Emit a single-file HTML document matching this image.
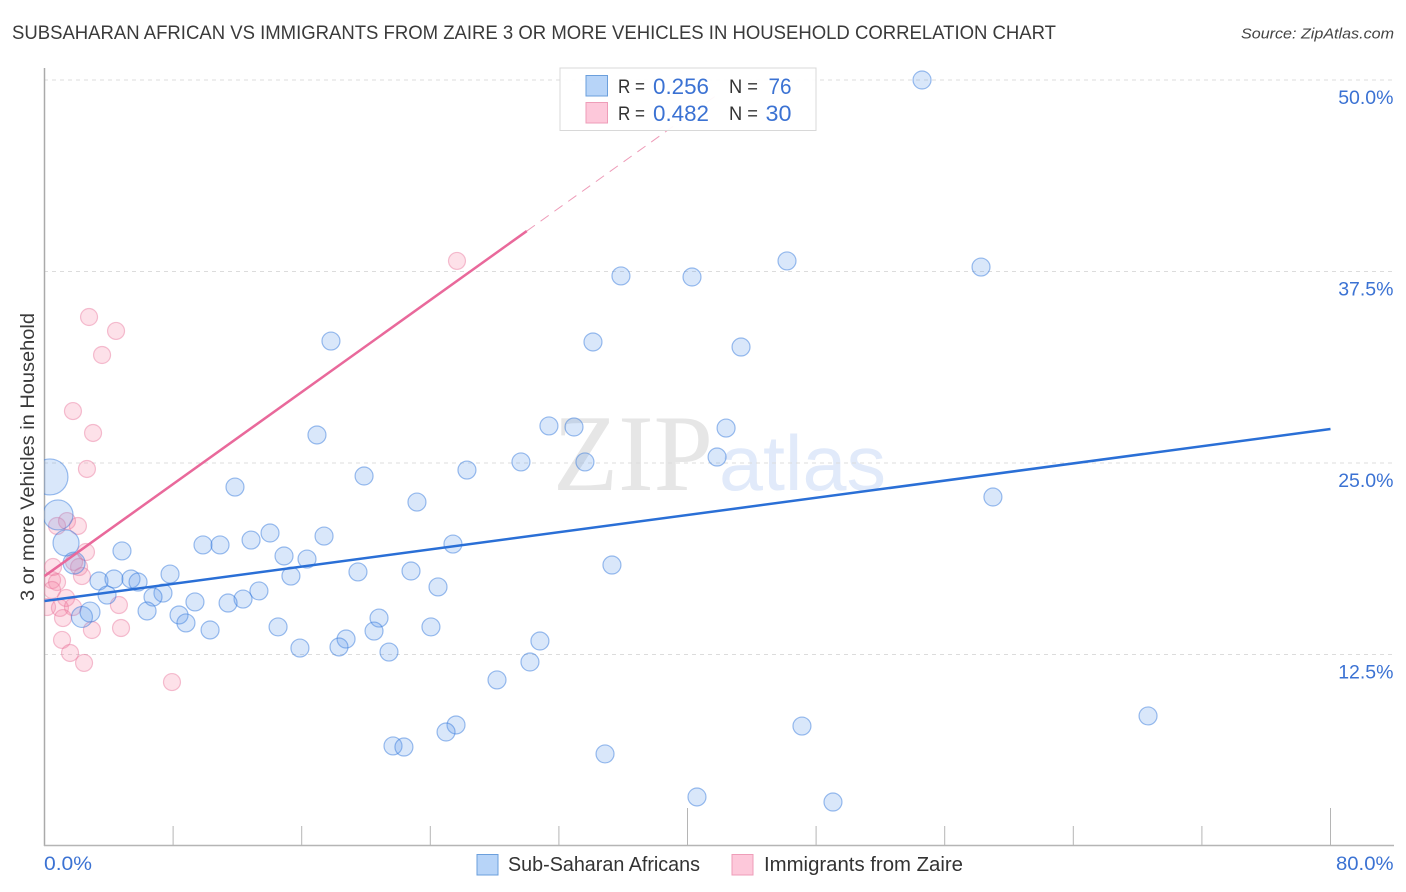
<!DOCTYPE html>
<html lang="en">
<head>
<meta charset="utf-8">
<title>Sub-Saharan African vs Immigrants from Zaire correlation chart</title>
<style>
html,body{margin:0;padding:0;background:#fff;}
svg{display:block;font-family:"Liberation Sans",sans-serif;}
</style>
</head>
<body>
<svg id="chart" width="1406" height="892" viewBox="0 0 1406 892" xmlns="http://www.w3.org/2000/svg">
  <defs><clipPath id="plot-clip"><rect x="44" y="60" width="1350" height="786"/></clipPath></defs>
  <rect width="1406" height="892" fill="#fff"/>
  <text x="12" y="39" font-size="19" fill="#3a3a3a" textLength="1044" lengthAdjust="spacingAndGlyphs">SUBSAHARAN AFRICAN VS IMMIGRANTS FROM ZAIRE 3 OR MORE VEHICLES IN HOUSEHOLD CORRELATION CHART</text>
  <text x="1241" y="38.500" font-size="15" font-style="italic" fill="#444" textLength="153" lengthAdjust="spacingAndGlyphs">Source: ZipAtlas.com</text>
  <g id="watermark">
    <text x="553" y="490" font-family="'Liberation Serif',serif" font-size="109" fill="#e6e6e6" textLength="160" lengthAdjust="spacingAndGlyphs">ZIP</text>
    <text x="719" y="490" font-size="78" fill="#e1eafa" textLength="167" lengthAdjust="spacingAndGlyphs">atlas</text>
  </g>
  <g id="grid"></g>
  <g id="axes"></g>
  <g id="marks-pink" clip-path="url(#plot-clip)"></g>
  <g id="marks-blue" clip-path="url(#plot-clip)"></g>
  <g id="trends"></g>
  <g id="y-labels"></g>
  <text transform="translate(34,457) rotate(-90)" font-size="19" fill="#3a3a3a" text-anchor="middle" textLength="288" lengthAdjust="spacingAndGlyphs">3 or more Vehicles in Household</text>
  <text x="44" y="870" font-size="19.500" fill="#3b72d3" textLength="48" lengthAdjust="spacingAndGlyphs">0.0%</text>
  <text x="1336" y="870" font-size="19.500" fill="#3b72d3" textLength="57.500" lengthAdjust="spacingAndGlyphs">80.0%</text>

  <g>
    <rect x="560" y="68" width="256" height="62.500" fill="#fff" fill-opacity="0.93" stroke="#d8d8d8" stroke-width="1"/>
    <rect x="586" y="75.500" width="21.500" height="20.500" fill="#b7d4f8" stroke="#6b9fdc" stroke-width="1"/>
    <rect x="586" y="102.500" width="21.500" height="20.500" fill="#fdc8da" stroke="#ee9db8" stroke-width="1"/>
    <text x="618" y="93" font-size="19.500" fill="#333" textLength="27" lengthAdjust="spacingAndGlyphs">R =</text>
    <text x="653" y="94" font-size="22" fill="#3b72d3" textLength="56" lengthAdjust="spacingAndGlyphs">0.256</text>
    <text x="729" y="93" font-size="19.500" fill="#333" textLength="29" lengthAdjust="spacingAndGlyphs">N =</text>
    <text x="768.500" y="94" font-size="22" fill="#3b72d3" textLength="23" lengthAdjust="spacingAndGlyphs">76</text>
    <text x="618" y="120" font-size="19.500" fill="#333" textLength="27" lengthAdjust="spacingAndGlyphs">R =</text>
    <text x="653" y="121" font-size="22" fill="#3b72d3" textLength="56" lengthAdjust="spacingAndGlyphs">0.482</text>
    <text x="729" y="120" font-size="19.500" fill="#333" textLength="29" lengthAdjust="spacingAndGlyphs">N =</text>
    <text x="765.500" y="121" font-size="22" fill="#3b72d3" textLength="26" lengthAdjust="spacingAndGlyphs">30</text>
  </g>

  <g>
    <rect x="477" y="854.500" width="21" height="20.500" fill="#b7d4f8" stroke="#6b9fdc" stroke-width="1"/>
    <text x="508" y="871" font-size="20" fill="#333" textLength="192" lengthAdjust="spacingAndGlyphs">Sub-Saharan Africans</text>
    <rect x="732" y="854.500" width="21" height="20.500" fill="#fdc8da" stroke="#ee9db8" stroke-width="1"/>
    <text x="764" y="871" font-size="20" fill="#333" textLength="199" lengthAdjust="spacingAndGlyphs">Immigrants from Zaire</text>
  </g>
</svg>
<script>
const yTickValues = [12.5, 25, 37.5, 50];
const yTickLabels = ["12.5%", "25.0%", "37.5%", "50.0%"];
const xTickValues = [0, 8, 16, 24, 32, 40, 48, 56, 64, 72, 80];
const xMajorTicks = [0, 40, 80];

const blueX = [0.34,0.84,1.34,1.84,2.33,2.83,54.59,46.19,58.26,35.86,40.28,17.82,34.12,43.33,31.38,32.94,42.40,16.95,41.84,29.64,33.62,26.28,19.88,11.85,59.00,23.17,14.03,17.39,12.85,9.86,10.92,25.41,4.82,14.90,16.33,35.30,19.50,22.80,7.81,15.33,3.39,4.32,5.38,5.82,24.48,13.34,3.89,7.37,6.75,9.36,12.35,11.42,6.38,8.37,8.80,20.81,10.30,14.53,24.04,20.50,18.76,30.82,18.32,15.89,21.43,30.20,28.15,25.60,24.98,21.68,22.36,47.12,68.65,34.87,40.59,49.05];
const blueY = [24.09,21.61,19.78,18.47,14.95,15.27,50.00,38.19,37.79,37.21,37.14,32.96,32.90,32.57,27.42,27.35,27.28,26.83,25.39,25.07,25.07,24.54,24.15,23.43,22.78,22.45,20.43,20.23,19.97,19.65,19.65,19.71,19.26,18.93,18.73,18.34,17.89,17.95,17.75,17.62,17.30,17.43,17.43,17.23,16.91,16.65,16.38,16.51,16.25,15.93,16.12,15.86,15.34,15.08,14.56,14.88,14.10,14.30,14.30,14.03,13.51,13.38,12.99,12.92,12.66,12.01,10.84,7.90,7.44,6.53,6.46,7.83,8.49,6.01,3.20,2.87];
const blueWeight = [4,2.78,2.09,1.49,1.36,1.23];

const pinkX = [25.66,2.77,4.45,3.58,1.77,3.02,2.64,0.78,1.40,2.08,2.58,0.53,1.84,2.15,2.33,0.47,0.78,0.47,1.34,0.16,0.96,1.77,1.15,2.95,4.63,4.76,1.09,1.59,2.46,7.93];
const pinkY = [38.19,34.53,33.62,32.05,28.39,26.96,24.61,20.89,21.21,20.89,19.19,18.21,18.54,18.21,17.62,17.36,17.23,16.71,16.19,15.60,15.54,15.60,14.88,14.10,15.73,14.23,13.45,12.60,11.95,10.70];

const blueTrendX = [0, 80];
const blueTrendY = [15.99, 27.22];
const pinkTrendX = [0, 30];
const pinkTrendY = [17.62, 40.14];
const pinkTrendDashEndX = 42;

const NS = "http://www.w3.org/2000/svg";
function xScale(v){ return 44.5 + v * 16.075; }
function yScale(v){ return 846 - v * 15.32; }
function rScale(w){ return 9 * Math.sqrt(w); }
function make(tag, attrs, parentId){
  const el = document.createElementNS(NS, tag);
  for (const k in attrs) el.setAttribute(k, attrs[k]);
  document.getElementById(parentId).appendChild(el);
  return el;
}

yTickValues.forEach(function(v, i){
  const line = make("line", {x1:44, x2:1393, y1:yScale(v), y2:yScale(v), stroke:"#dcdcdc", "stroke-width":1, "stroke-dasharray":"4 4"}, "grid");
  
  
  const label = make("text", {x:1393.5, y:yScale(v) + 24, "font-size":19.5, fill:"#3b72d3", "text-anchor":"end"}, "y-labels");
  label.textContent = yTickLabels[i];
  
  
});

const yAxis = make("line", {x1:44.5, x2:44.5, y1:68, y2:846, stroke:"#aaaaaa", "stroke-width":1.5}, "axes");


const xAxis = make("line", {x1:44, x2:1394, y1:845.5, y2:845.5, stroke:"#b5b5b5", "stroke-width":1.5}, "axes");


xTickValues.forEach(function(v){
  if (v === 0) return;
  const top = xMajorTicks.indexOf(v) >= 0 ? 808 : 826;
  const tick = make("line", {x1:xScale(v), x2:xScale(v), y1:top, y2:845, stroke:"#b5b5b5", "stroke-width":1}, "axes");
  
  
});

pinkX.forEach(function(v, i){
  const c = make("circle", {cx:xScale(v), cy:yScale(pinkY[i]), r:8.5, fill:"rgba(245,130,165,0.24)", stroke:"rgba(232,110,150,0.42)", "stroke-width":1.2}, "marks-pink");
  
  
});
blueX.forEach(function(v, i){
  const c = make("circle", {cx:xScale(v), cy:yScale(blueY[i]), r:rScale(blueWeight[i] || 1), fill:"rgba(95,155,235,0.24)", stroke:"rgba(50,120,220,0.48)", "stroke-width":1.2}, "marks-blue");
  
  
});

const pinkSlope = (pinkTrendY[1] - pinkTrendY[0]) / (pinkTrendX[1] - pinkTrendX[0]);
const pinkDash = make("line", {x1:xScale(pinkTrendX[1]), y1:yScale(pinkTrendY[1]), x2:xScale(pinkTrendDashEndX), y2:yScale(pinkTrendY[0] + pinkSlope * pinkTrendDashEndX), stroke:"#ee9bb8", "stroke-width":1, "stroke-dasharray":"10 7"}, "trends");


const pinkLine = make("line", {x1:xScale(pinkTrendX[0]), y1:yScale(pinkTrendY[0]), x2:xScale(pinkTrendX[1]), y2:yScale(pinkTrendY[1]), stroke:"#e9699b", "stroke-width":2.5}, "trends");


const blueLine = make("line", {x1:xScale(blueTrendX[0]), y1:yScale(blueTrendY[0]), x2:xScale(blueTrendX[1]), y2:yScale(blueTrendY[1]), stroke:"#2a6fd6", "stroke-width":2.5}, "trends");


</script>
</body>
</html>
